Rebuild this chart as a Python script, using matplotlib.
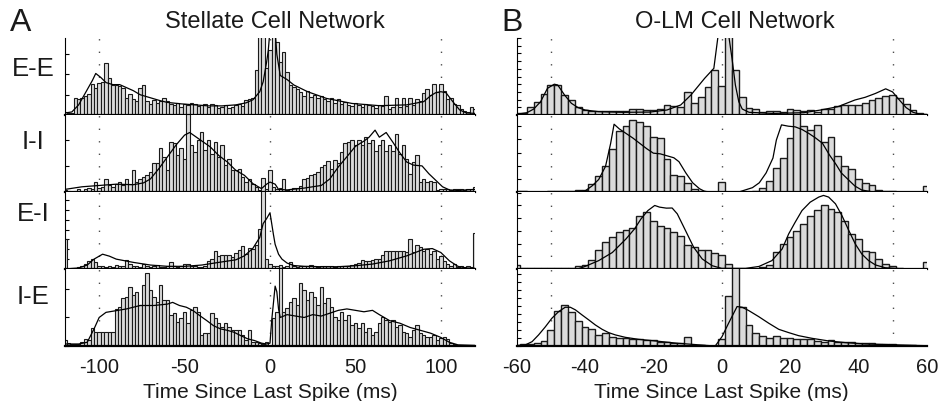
import numpy as np
import matplotlib
matplotlib.use('Agg')
import matplotlib.pyplot as plt
from matplotlib.ticker import MultipleLocator

plt.rcParams['font.family'] = ['Liberation Sans', 'DejaVu Sans']
plt.rcParams['axes.unicode_minus'] = False

# bin centres (ms)
a_bins = np.arange(-120, 121, 2)
b_bins = np.arange(-60, 61, 2)

row_names = ['E-E', 'I-I', 'E-I', 'I-E']

# ---------------- A : Stellate cell network ----------------
a_ee = [0.15, 0.1, 0.12, 0.85, 0.78, 0.85, 0.95, 1.05, 1.55, 1.35,
        1.6, 1.65, 2.55, 1.85, 1.5, 1.5, 1.45, 1.35, 0.85, 1.05,
        0.8, 0.7, 1.35, 1.5, 0.7, 0.55, 0.75, 0.6, 0.7, 0.85,
        0.7, 0.55, 0.5, 0.6, 0.4, 0.55, 0.5, 0.6, 0.55, 0.45,
        0.5, 0.55, 0.4, 0.55, 0.5, 0.35, 0.4, 0.5, 0.35, 0.4,
        0.5, 0.55, 0.45, 0.75, 0.8, 0.85, 2.2, 3.9, 3.9, 2.3,
        3.2, 3.9, 3.6, 2.6, 3.1, 2.1, 1.5, 1.4, 1.3, 1.15,
        0.95, 1.2, 0.9, 1.0, 0.85, 0.95, 0.8, 0.7, 0.85, 0.6,
        0.8, 0.55, 0.65, 0.5, 0.45, 0.6, 0.5, 0.4, 0.55, 0.5,
        0.45, 0.35, 0.5, 0.45, 0.95, 0.3, 0.4, 0.85, 0.4, 0.85,
        0.45, 0.85, 0.5, 0.8, 0.7, 1.1, 1.3, 1.0, 1.55, 1.15,
        1.55, 1.2, 0.8, 0.85, 0.55, 0.5, 0.3, 0.2, 0.15, 0.4, 0.3]
a_ii = [0.08, 0.05, 0.0, 0.05, 0.1, 0.05, 0.1, 0.15, 0.1, 0.38,
        0.15, 0.2, 0.5, 0.25, 0.2, 0.3, 0.38, 0.25, 0.5, 0.3,
        0.85, 0.38, 0.5, 0.58, 0.65, 0.77, 1.1, 1.1, 1.67, 1.35,
        0.83, 1.9, 1.87, 1.42, 1.67, 1.28, 3.0, 1.8, 1.54, 2.0,
        2.3, 1.6, 2.0, 1.47, 1.9, 1.35, 1.8, 1.03, 1.28, 0.83,
        0.83, 0.87, 0.58, 0.38, 0.5, 0.32, 0.2, 0.06, 0.55, 0.13,
        0.85, 0.2, 0.1, 0.15, 0.5, 0.06, 0.13, 0.15, 0.15, 0.23,
        0.5, 0.54, 0.64, 0.7, 0.77, 0.96, 1.03, 1.18, 0.9, 1.22,
        1.1, 1.54, 1.86, 1.9, 2.0, 1.8, 2.0, 1.8, 2.1, 1.86,
        2.0, 1.56, 1.8, 2.0, 1.56, 1.8, 1.56, 2.23, 1.47, 1.8,
        1.28, 0.7, 1.15, 1.4, 0.38, 0.5, 0.38, 0.41, 0.38, 0.06,
        0.1, 0.1, 0.12, 0.08, 0.1, 0.1, 0.12, 0.08, 0.1, 0.12, 0.2]
a_ei = [3.0, 0.05, 0.1, 0.15, 0.2, 0.3, 0.5, 0.8, 1.0, 0.7,
        0.3, 0.35, 0.25, 0.3, 0.25, 0.4, 0.3, 0.35, 0.9, 0.55,
        0.3, 0.35, 0.2, 0.5, 0.3, 0.25, 0.3, 0.4, 0.2, 0.25,
        0.3, 0.7, 0.3, 0.25, 0.3, 0.5, 0.55, 0.3, 0.35, 0.2,
        0.25, 0.3, 0.8, 1.0, 1.8, 1.3, 1.4, 1.45, 1.45, 1.2,
        1.6, 1.9, 2.35, 1.5, 2.1, 2.0, 2.4, 4.05, 9.0, 1.0,
        0.5, 0.35, 0.3, 0.4, 0.25, 0.3, 0.7, 0.3, 0.25, 0.35,
        0.3, 0.3, 0.4, 0.35, 0.25, 0.3, 0.3, 0.35, 0.3, 0.25,
        0.3, 0.35, 0.3, 0.35, 0.4, 0.5, 0.6, 0.9, 0.8, 0.85,
        0.9, 1.0, 1.0, 1.4, 1.8, 1.85, 1.8, 1.8, 1.85, 1.8,
        1.7, 3.0, 1.7, 2.4, 2.2, 1.8, 2.0, 1.5, 1.8, 1.0,
        1.3, 0.8, 0.5, 0.3, 0.5, 0.25, 0.3, 0.2, 0.3, 0.25, 3.6]
a_ie = [0.2, 0.1, 0.06, 0.06, 0.06, 0.15, 0.25, 0.2, 0.62, 0.5,
        0.5, 0.5, 0.5, 0.5, 0.5, 1.3, 1.38, 1.67, 1.73, 2.08,
        1.79, 1.91, 1.44, 2.14, 2.55, 1.96, 1.73, 1.56, 2.14, 1.61,
        1.61, 1.09, 1.15, 0.85, 0.97, 1.2, 0.8, 1.26, 1.38, 1.2,
        0.39, 0.44, 0.44, 1.15, 0.97, 0.8, 0.68, 0.8, 0.68, 0.56,
        0.56, 0.56, 0.39, 0.21, 0.56, 0.15, 0.13, 0.09, 0.08, 0.13,
        0.05, 0.97, 1.2, 3.5, 1.2, 1.32, 1.56, 1.67, 1.44, 2.2,
        1.96, 1.61, 1.91, 1.73, 1.44, 2.08, 1.5, 1.67, 1.38, 1.03,
        0.91, 1.2, 0.91, 1.09, 0.74, 0.8, 0.62, 0.8, 0.5, 0.62,
        0.39, 0.5, 0.8, 1.03, 0.91, 0.85, 0.91, 0.68, 0.74, 0.5,
        0.44, 0.33, 0.56, 0.74, 0.44, 0.39, 0.33, 0.33, 0.39, 0.21,
        0.27, 0.33, 0.25, 0.09, 0.06, 0.04, 0.04, 0.03, 0.03, 0.03, 0.03]

# smoothed curves (ms, value)
a_ee_fit = [(-120, 0.1), (-116, 0.15), (-112, 0.5), (-108, 1.1), (-104, 1.7), (-102, 2.05),
            (-99, 1.85), (-96, 1.6), (-92, 1.5), (-88, 1.5), (-84, 1.35), (-80, 1.2),
            (-76, 1.0), (-72, 0.9), (-68, 0.8), (-64, 0.7), (-60, 0.62), (-52, 0.55),
            (-44, 0.5), (-36, 0.45), (-28, 0.45), (-20, 0.5), (-14, 0.6), (-10, 0.75),
            (-6, 1.15), (-4, 1.64), (-2, 2.6), (-1, 3.2), (0, 4.2), (3, 4.2), (4, 3.0),
            (6, 1.95), (10, 1.75), (14, 1.48), (22, 1.15), (33, 0.82), (48, 0.57),
            (64, 0.46), (80, 0.5), (90, 0.66), (94, 0.95), (97, 1.1), (100, 1.15),
            (103, 1.1), (107, 0.66), (111, 0.25), (115, 0.1), (120, 0.08)]
a_ii_fit = [(-120, 0.1), (-110, 0.2), (-100, 0.25), (-90, 0.3), (-80, 0.28), (-74, 0.35),
            (-70, 0.5), (-65, 0.9), (-60, 1.35), (-55, 1.8), (-50, 2.18), (-47, 2.28),
            (-42, 2.05), (-35, 1.73), (-30, 1.4), (-25, 1.15), (-20, 0.83), (-15, 0.64),
            (-10, 0.32), (-5, 0.13), (-2, 0.3), (0, 0.38), (3, 0.3), (5, 0.1), (10, 0.08),
            (20, 0.15), (30, 0.25), (35, 0.5), (40, 0.96), (45, 1.35), (50, 1.75),
            (55, 1.95), (58, 2.1), (61.5, 2.37), (64, 2.1), (68, 2.28), (72, 1.9),
            (76, 1.5), (80, 1.15), (84, 1.03), (89, 1.0), (93, 0.7), (97, 0.45),
            (101, 0.2), (105, 0.08), (110, 0.06), (120, 0.1)]
a_ei_fit = [(-120, 0.0), (-112, 0.1), (-107, 0.4), (-103, 1.0), (-98, 1.5), (-94, 1.3),
            (-90, 1.0), (-80, 0.67), (-70, 0.4), (-60, 0.27), (-50, 0.27), (-40, 0.4),
            (-30, 0.67), (-20, 0.93), (-15, 1.33), (-10, 2.1), (-6, 3.2), (-4, 4.6),
            (-2, 5.1), (0, 5.7), (1, 4.6), (2, 3.5), (3, 2.5), (5, 1.5), (7, 1.0),
            (10, 0.6), (14, 0.35), (20, 0.27), (30, 0.23), (40, 0.23), (50, 0.33),
            (60, 0.5), (70, 0.83), (80, 1.33), (90, 2.0), (95, 2.07), (100, 1.67),
            (105, 0.83), (110, 0.27), (115, 0.1), (120, 0.07)]
a_ie_fit = [(-120, 0.07), (-112, 0.07), (-107, 0.13), (-103, 0.6), (-100, 1.0), (-96, 1.18),
            (-90, 1.24), (-84, 1.3), (-76, 1.42), (-68, 1.42), (-60, 1.47), (-57, 1.53),
            (-53, 1.42), (-49, 1.36), (-45, 1.24), (-41, 1.06), (-37, 0.89), (-33, 0.71),
            (-29, 0.6), (-25, 0.55), (-21, 0.48), (-17, 0.36), (-13, 0.25), (-9, 0.19),
            (-5, 0.1), (-2, 0.07), (0, 0.1), (1, 0.9), (3, 2.1), (4, 1.9), (5, 1.3),
            (6, 1.0), (10, 1.1), (15, 1.05), (20, 1.0), (25, 1.1), (30, 1.05), (35, 1.15),
            (40, 1.25), (45, 1.3), (50, 1.25), (55, 1.2), (60, 1.25), (64, 1.1),
            (70, 0.89), (76, 0.8), (82, 0.65), (88, 0.55), (94, 0.45), (100, 0.3),
            (105, 0.13), (110, 0.04), (120, 0.02)]

# ---------------- B : O-LM cell network ----------------
b_ee = [0.2, 0.3, 1.08, 1.65, 2.7, 3.9, 3.9, 2.6, 1.95, 1.08,
        0.65, 0.56, 0.52, 0.52, 0.52, 0.56, 0.56, 0.78, 0.78, 0.6,
        0.65, 0.74, 1.3, 1.17, 1.08, 2.94, 1.6, 2.38, 3.6, 5.84,
        3.81, 10.5, 5.84, 2.3, 0.87, 0.78, 0.43, 0.56, 0.56, 0.43,
        0.74, 0.65, 0.52, 0.65, 0.43, 0.78, 0.78, 1.17, 1.25, 1.35,
        1.35, 1.55, 2.0, 2.2, 2.45, 2.6, 2.15, 1.4, 0.6, 0.2, 0.1]
b_ii = [0.08, 0.05, 0.03, 0.03, 0.03, 0.05, 0.05, 0.05, 0.05, 0.15,
        0.15, 0.58, 1.25, 1.95, 3.3, 4.65, 5.0, 5.5, 5.3, 5.0,
        4.2, 4.1, 2.5, 1.3, 1.25, 0.7, 0.2, 0.08, 0.0, 0.0,
        0.78, 0.0, 0.0, 0.0, 0.0, 0.05, 0.32, 0.83, 1.83, 2.58,
        4.13, 6.2, 5.0, 4.7, 5.08, 3.83, 4.2, 2.75, 2.0, 1.75,
        0.95, 0.7, 0.5, 0.15, 0.05, 0.05, 0.03, 0.03, 0.03, 0.03, 0.45]
b_ei = [0.3, 0.05, 0.05, 0.05, 0.05, 0.05, 0.08, 0.05, 0.1, 0.26,
        0.32, 0.7, 1.53, 2.1, 2.5, 2.95, 3.1, 3.2, 4.2, 4.47,
        3.8, 3.37, 3.2, 2.95, 2.58, 1.9, 1.7, 1.5, 1.5, 1.26,
        1.1, 0.4, 0.0, 0.0, 0.0, 0.0, 0.13, 0.32, 1.37, 1.97,
        2.5, 3.03, 3.55, 4.16, 4.68, 5.05, 4.7, 4.47, 3.74, 2.76,
        2.37, 1.45, 1.32, 0.79, 0.4, 0.26, 0.1, 0.0, 0.0, 0.0, 0.53]
b_ie = [0.13, 0.2, 0.25, 0.42, 0.67, 2.0, 4.4, 5.1, 4.3, 3.1,
        2.4, 2.1, 1.4, 1.6, 1.1, 1.05, 0.96, 0.88, 0.88, 0.8,
        0.75, 0.54, 0.5, 0.42, 0.33, 1.13, 0.0, 0.08, 0.04, 0.0,
        0.83, 6.25, 10.5, 4.9, 2.6, 1.67, 1.25, 0.96, 1.3, 0.96,
        0.96, 0.83, 0.88, 0.88, 0.67, 0.5, 0.75, 0.5, 0.54, 0.54,
        0.42, 0.33, 0.33, 0.25, 0.2, 0.2, 0.13, 0.08, 0.08, 0.04, 0.04]

b_ee_fit = [(-60, 0.1), (-57, 0.3), (-55, 0.78), (-53, 1.73), (-51, 3.46), (-49, 4.0),
            (-48, 3.9), (-46, 2.6), (-44, 1.52), (-42, 0.95), (-40, 0.65), (-36, 0.43),
            (-29, 0.35), (-21, 0.38), (-16, 0.65), (-12, 1.3), (-9, 2.6), (-5, 4.76),
            (-2.3, 6.06), (-1, 10.5), (2, 10.5), (3, 7.4), (4, 3.9), (5, 1.73), (6, 0.78),
            (8, 0.35), (15, 0.2), (24, 0.3), (29, 0.65), (34, 1.08), (39, 1.95),
            (42, 2.3), (45, 2.8), (48, 3.4), (50, 3.0), (52, 1.95), (54, 0.95),
            (56, 0.35), (58, 0.1), (60, 0.05)]
b_ii_fit = [(-60, 0.0), (-44, 0.0), (-40, 0.08), (-38, 0.45), (-36, 0.95), (-34, 1.95),
            (-32.5, 3.7), (-31.5, 5.15), (-30, 4.8), (-28, 4.45), (-26, 4.1), (-24, 3.7),
            (-22, 3.3), (-20, 2.95), (-18, 2.9), (-16, 2.75), (-14, 2.6), (-12.5, 2.3),
            (-10.5, 1.45), (-8.5, 0.7), (-6.5, 0.25), (-5, 0.05), (-3, 0.0), (5, 0.0),
            (9, 0.33), (11, 0.7), (13, 1.45), (15, 2.58), (16, 3.95), (17.5, 5.1),
            (19.5, 5.0), (21.5, 4.95), (23.5, 4.75), (25.5, 4.45), (27.5, 4.1),
            (29.5, 3.7), (31.5, 2.83), (33.5, 2.08), (35, 1.45), (37, 0.95), (39, 0.45),
            (41, 0.15), (44, 0.02), (60, 0.0)]
b_ei_fit = [(-60, 0.0), (-42, 0.02), (-40, 0.2), (-36, 0.66), (-32, 1.3), (-28, 2.37),
            (-25.5, 3.16), (-23.6, 3.95), (-21.6, 4.6), (-19.6, 5.0), (-18.2, 4.87),
            (-16.2, 4.79), (-14.5, 4.8), (-13, 4.34), (-10.6, 3.03), (-8.2, 1.71),
            (-5.7, 0.79), (-2.8, 0.26), (0, 0.05), (7, 0.05), (10.9, 0.2), (14.7, 0.66),
            (17.7, 1.58), (19.6, 2.76), (21.5, 3.68), (23.5, 4.6), (25.9, 5.26),
            (28.4, 5.66), (29.8, 5.79), (31.3, 5.66), (33.3, 5.13), (35.2, 4.2),
            (37.2, 3.03), (39.1, 1.97), (41, 1.18), (43, 0.66), (45, 0.32), (47.8, 0.1),
            (53.7, 0.0), (60, 0.0)]
b_ie_fit = [(-60, 0.05), (-57.5, 0.13), (-55.5, 0.54), (-53.6, 1.38), (-51.6, 2.4),
            (-49.7, 3.46), (-47.7, 4.3), (-45.8, 4.83), (-44.3, 4.83), (-42.8, 4.5),
            (-40.9, 3.88), (-38.9, 3.25), (-37, 2.63), (-35, 2.08), (-33.1, 1.67),
            (-31.1, 1.38), (-28.2, 1.08), (-24.3, 0.83), (-20.4, 0.67), (-16.5, 0.5),
            (-12.6, 0.33), (-8.7, 0.21), (-4.8, 0.08), (-1.9, 0.0), (0.1, 1.17), (2, 2.83),
            (4.5, 4.92), (6, 4.83), (7.9, 4.42), (10.8, 3.67), (13.8, 2.83), (16.7, 2.08),
            (19.6, 1.67), (22.5, 1.29), (26.4, 0.96), (31.3, 0.63), (36.2, 0.42),
            (42, 0.25), (48.9, 0.17), (55.7, 0.08), (60, 0.04)]

a_hists = [a_ee, a_ii, a_ei, a_ie]
a_fits = [a_ee_fit, a_ii_fit, a_ei_fit, a_ie_fit]
b_hists = [b_ee, b_ii, b_ei, b_ie]
b_fits = [b_ee_fit, b_ii_fit, b_ei_fit, b_ie_fit]

a_xticks = [-100, -50, 0, 50, 100]
b_xticks = [-60, -40, -20, 0, 20, 40, 60]

# ---------------- layout (pixels of a 939x402 figure) ----------------
W, H = 939.0, 402.0
top, rowh = 39.0, 77.0
a_ymax = [3.8, 2.95, 7.8, 2.7]
b_ymax = [10.0, 5.85, 6.06, 9.6]
label_y = [69, 142, 214, 297]

fig = plt.figure(figsize=(9.39, 4.02), dpi=100)


def draw_panel(left, bins, hists, fits, ymaxs, xlim, guides, xticks, edge_lw):
    for r in range(4):
        ax = fig.add_axes([left / W, 1 - (top + rowh * (r + 1)) / H, 410 / W, rowh / H])
        for g in guides:
            ax.axvline(g, color='0.3', lw=1.0, ls=(0, (1, 8)), zorder=1)
        ax.bar(bins, hists[r], width=2, color='0.86', edgecolor='0.1',
               linewidth=edge_lw, zorder=2)
        t, y = zip(*fits[r])
        ax.plot(t, y, color='k', lw=0.9, zorder=3)
        ax.set_xlim(xlim)
        ax.set_ylim(0, ymaxs[r])
        ax.spines['top'].set_visible(False)
        ax.spines['right'].set_visible(False)
        ax.spines['left'].set_linewidth(0.8)
        ax.spines['bottom'].set_linewidth(1.6)
        ax.yaxis.set_major_locator(MultipleLocator(1))
        ax.tick_params(axis='y', direction='in', length=3, width=0.8, labelleft=False)
        if r < 3:
            ax.tick_params(axis='x', length=0, labelbottom=False)
        else:
            ax.set_xticks(xticks)
            ax.tick_params(axis='x', length=0, pad=8, labelsize=14.5, labelcolor='0.1')
            ax.set_xlabel('Time Since Last Spike (ms)', fontsize=15, color='0.1',
                          labelpad=4)


draw_panel(65, a_bins, a_hists, a_fits, a_ymax, (-120, 120), [-100, 0, 100], a_xticks, 0.8)
draw_panel(516.7, b_bins, b_hists, b_fits, b_ymax, (-60, 60), [-50, 0, 50], b_xticks, 1.0)

# row labels, panel letters and titles
for name, ly in zip(row_names, label_y):
    fig.text(33 / W, 1 - ly / H, name, ha='center', va='center',
             fontsize=18.5, color='0.1')
fig.text(21 / W, 1 - 23 / H, 'A', ha='center', va='center', fontsize=23, color='0.1')
fig.text(512 / W, 1 - 23 / H, 'B', ha='center', va='center', fontsize=23, color='0.1')
fig.text(275 / W, 1 - 22 / H, 'Stellate Cell Network', ha='center', va='center',
         fontsize=17, color='0.1')
fig.text(735 / W, 1 - 22 / H, 'O-LM Cell Network', ha='center', va='center',
         fontsize=17, color='0.1')

fig.savefig('out.png', dpi=100)
